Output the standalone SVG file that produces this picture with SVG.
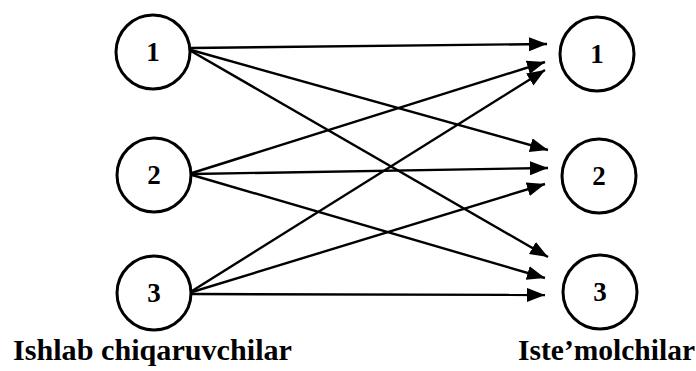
<svg xmlns="http://www.w3.org/2000/svg" width="696" height="371" viewBox="0 0 696 371">
<style>
.node circle{fill:#fff;stroke:#000;stroke-width:3}
.node text{font-family:"Liberation Serif","Times New Roman","DejaVu Serif",serif;font-size:27px;font-weight:bold;text-anchor:middle;fill:#000}
.edge{stroke:#000;stroke-width:2.4;fill:none;marker-end:url(#ah)}
.lbl{font-family:"Liberation Serif","Times New Roman","DejaVu Serif",serif;font-size:29px;font-weight:bold;fill:#000}
</style>
<defs>
<marker id="ah" markerUnits="userSpaceOnUse" markerWidth="20" markerHeight="16" refX="18" refY="7" orient="auto">
<path d="M0,0 L18,7 L0,14 Z" fill="#000"/>
</marker>
</defs>
<rect width="696" height="371" fill="#fff"/>
<g id="connectors">
<line class="edge" x1="191" y1="48" x2="547" y2="44"/>
<line class="edge" x1="191" y1="50" x2="548" y2="150"/>
<line class="edge" x1="191" y1="51" x2="548" y2="257"/>
<line class="edge" x1="192" y1="173" x2="545" y2="62"/>
<line class="edge" x1="192" y1="174" x2="548" y2="168"/>
<line class="edge" x1="192" y1="175" x2="545" y2="278"/>
<line class="edge" x1="192" y1="291" x2="545" y2="70"/>
<line class="edge" x1="192" y1="292" x2="545" y2="184"/>
<line class="edge" x1="192" y1="294" x2="545" y2="295"/>
</g>
<g id="src1" class="node"><circle cx="153" cy="52" r="37"/><text x="153" y="61">1</text></g>
<g id="src2" class="node"><circle cx="154" cy="175" r="37"/><text x="154" y="184">2</text></g>
<g id="src3" class="node"><circle cx="154" cy="293" r="37"/><text x="154" y="302">3</text></g>
<g id="dst1" class="node"><circle cx="597" cy="54" r="37"/><text x="597" y="63">1</text></g>
<g id="dst2" class="node"><circle cx="599" cy="176" r="37"/><text x="599" y="185">2</text></g>
<g id="dst3" class="node"><circle cx="600" cy="292" r="37"/><text x="600" y="301">3</text></g>
<text class="lbl" x="13" y="360" textLength="279" lengthAdjust="spacingAndGlyphs">Ishlab chiqaruvchilar</text>
<text class="lbl" x="518" y="360" textLength="177" lengthAdjust="spacingAndGlyphs">Iste’molchilar</text>
</svg>
